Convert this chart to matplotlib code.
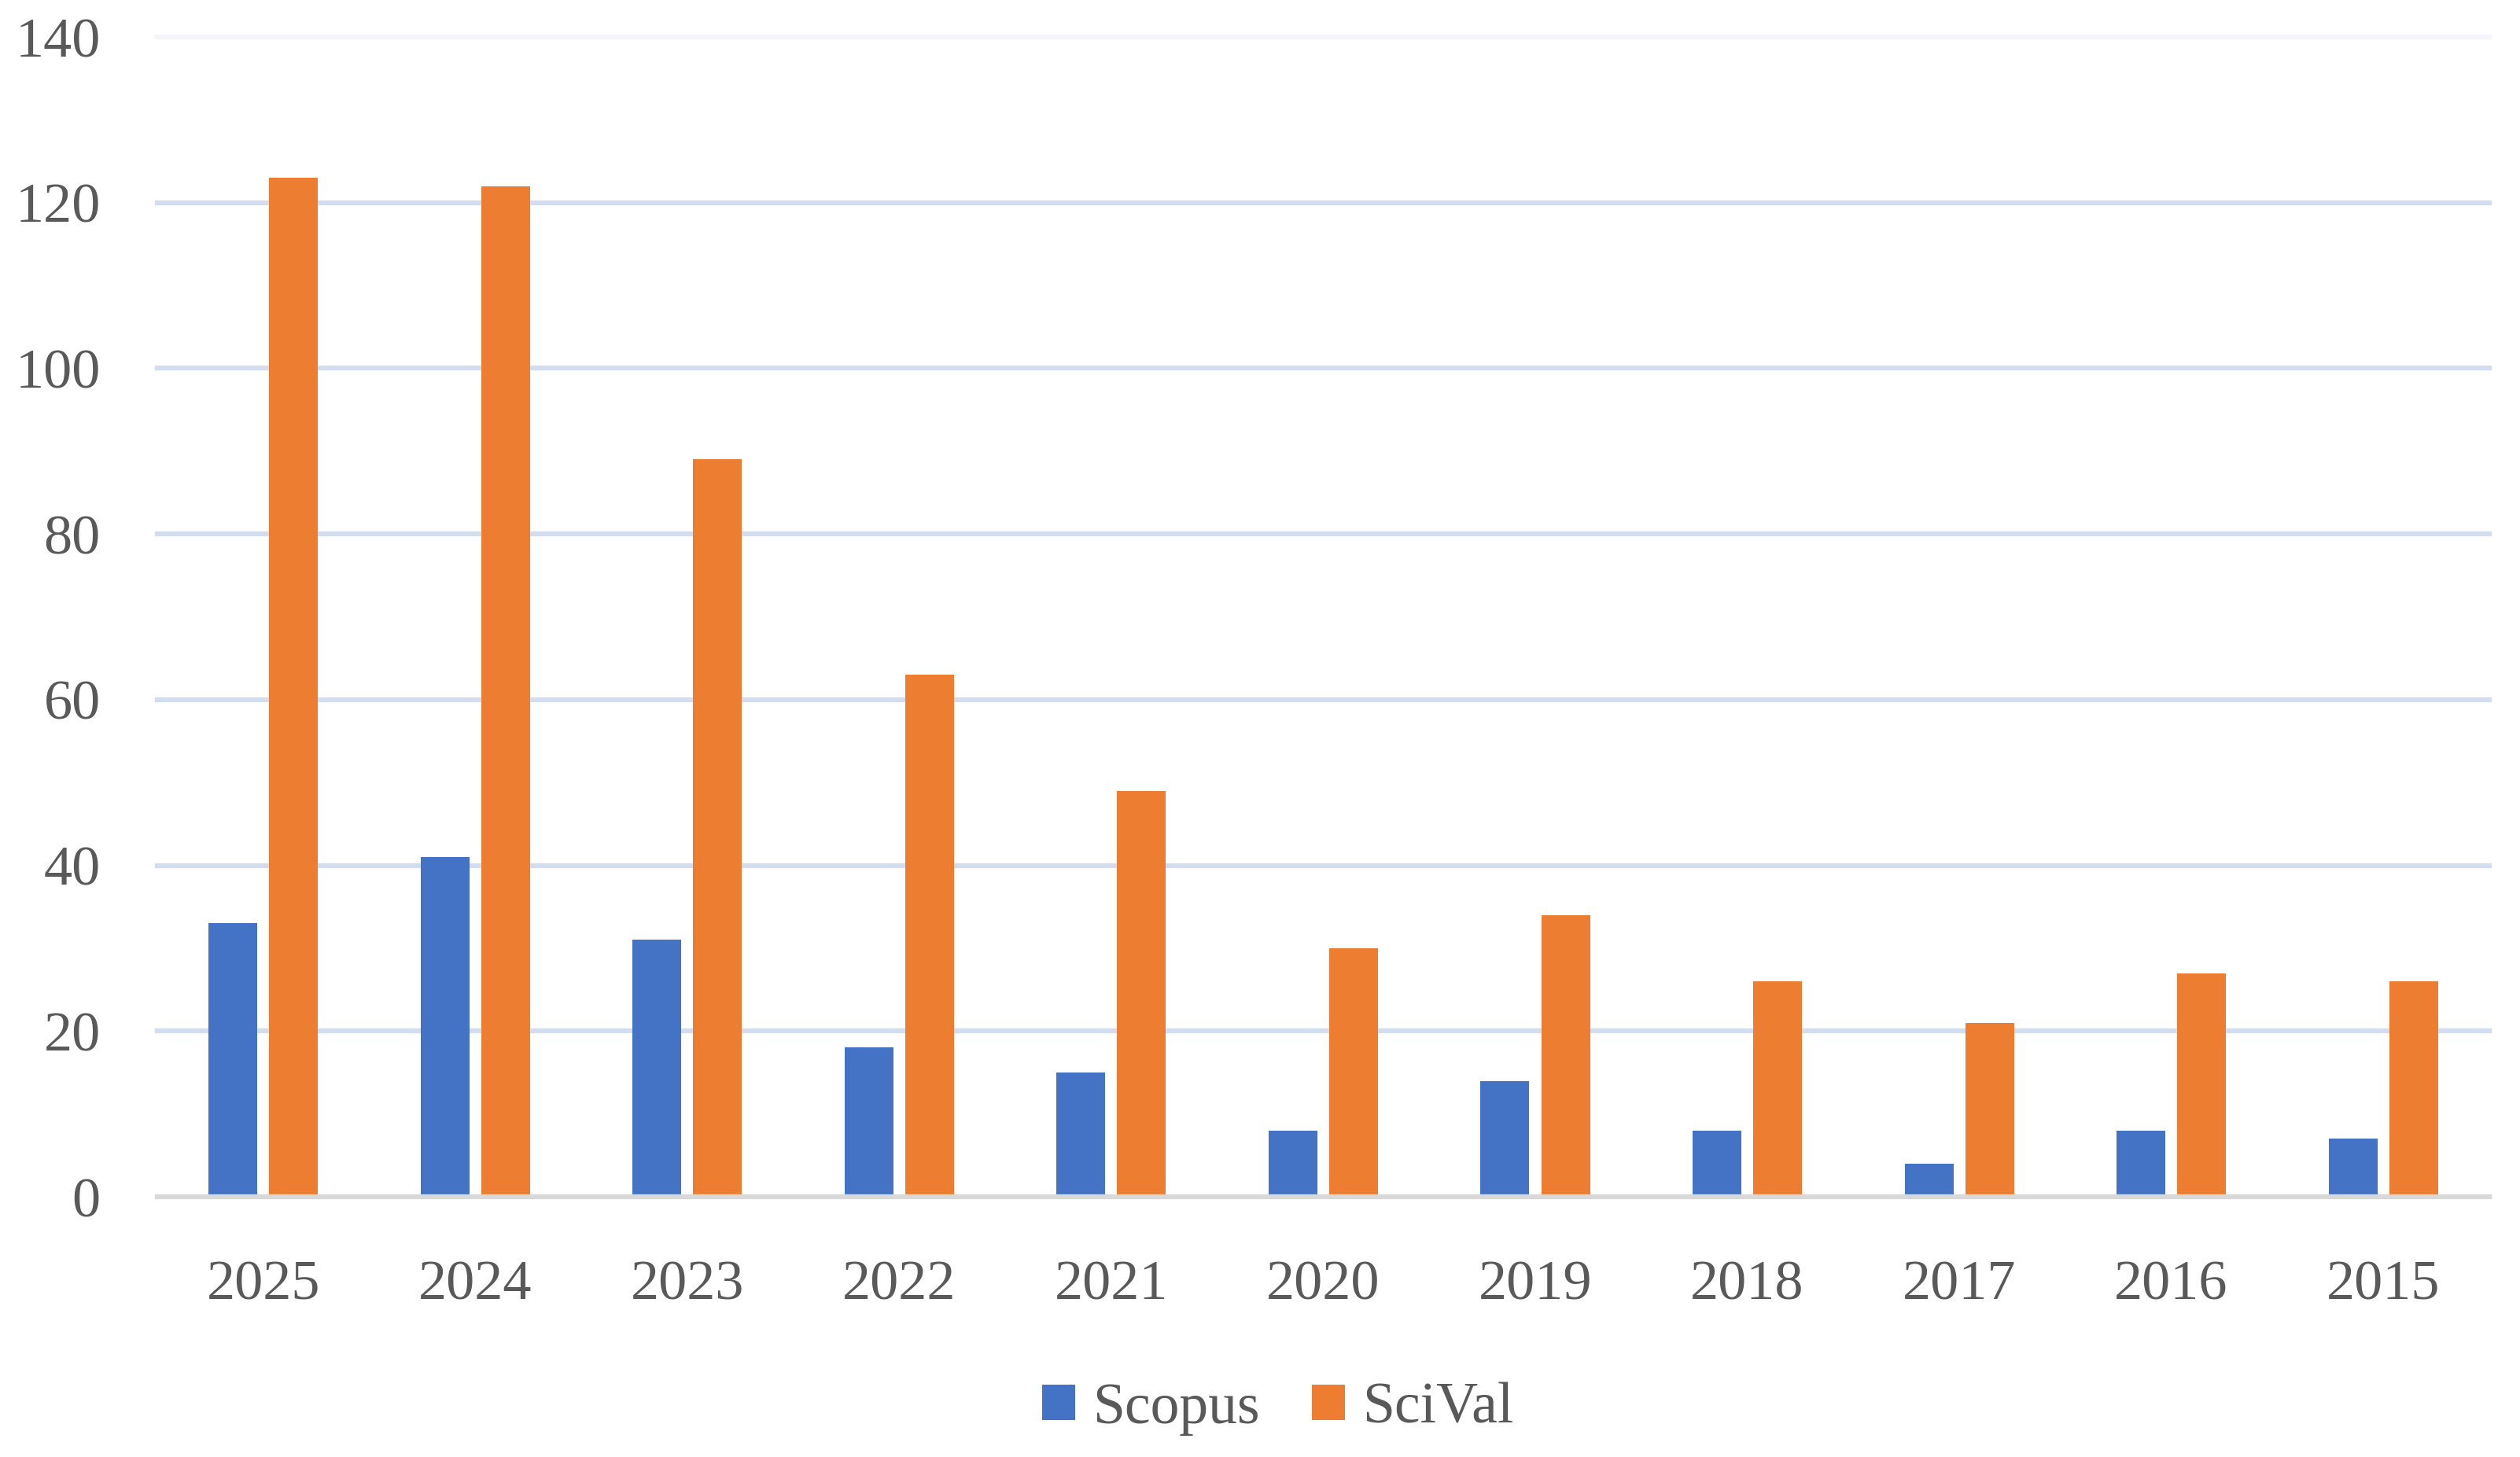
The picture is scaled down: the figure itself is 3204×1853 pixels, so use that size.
import matplotlib
matplotlib.use("Agg")
import matplotlib.pyplot as plt
import numpy as np

years = ["2025", "2024", "2023", "2022", "2021", "2020", "2019", "2018", "2017", "2016", "2015"]
scopus = [33, 41, 31, 18, 15, 8, 14, 8, 4, 8, 7]
scival = [123, 122, 89, 63, 49, 30, 34, 26, 21, 27, 26]
yticks = [0, 20, 40, 60, 80, 100, 120, 140]

BLUE = "#4472C4"
ORANGE = "#ED7D31"
TEXT = "#595959"

plt.rcParams["font.family"] = ["Liberation Serif", "DejaVu Serif"]

fig = plt.figure(figsize=(32.04, 18.53), dpi=100)
ax = fig.add_axes([0.0624, 0.1786, 0.9254, 0.796])

x = np.arange(len(years))
w = 0.23
off = 0.143
ax.bar(x - off, scopus, width=w, color=BLUE, label="Scopus", zorder=3)
ax.bar(x + off, scival, width=w, color=ORANGE, label="SciVal", zorder=3)

ax.set_xlim(-0.5, len(years) - 0.5)
ax.set_ylim(0, 140)
ax.set_yticks(yticks)
ax.set_xticks(x)
ax.set_xticklabels(years)

for v in yticks[1:]:
    col = "#F3F5FA" if v == 140 else "#D3DDF0"
    ax.axhline(v, color=col, lw=4.5, zorder=1, clip_on=False)
ax.axhline(0, color="#D9D9D9", lw=4.5, zorder=4, clip_on=False)

for s in ax.spines.values():
    s.set_visible(False)

ax.tick_params(axis="both", length=0, labelsize=52, colors=TEXT)
ax.tick_params(axis="y", pad=52)
ax.tick_params(axis="x", pad=58)

leg = fig.legend(loc="center", bbox_to_anchor=(0.507, 0.033), ncol=2, frameon=False,
                 fontsize=53, handlelength=0.57, handleheight=0.57,
                 handletextpad=0.3, columnspacing=0.9, labelcolor=TEXT)

fig.savefig("out.png", dpi=100, facecolor="white")
